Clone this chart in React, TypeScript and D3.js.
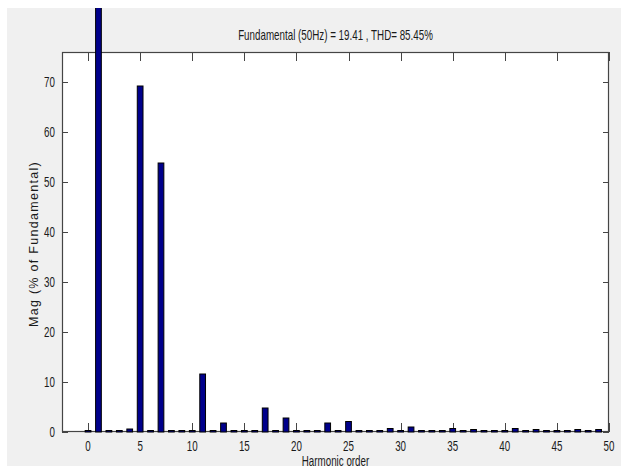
import * as d3 from 'd3'

const harmonicOrder = [
  0, 1, 2, 3, 4, 5, 6, 7, 8, 9, 10, 11, 12, 13, 14, 15, 16, 17, 18, 19, 20, 21, 22, 23, 24,
  25, 26, 27, 28, 29, 30, 31, 32, 33, 34, 35, 36, 37, 38, 39, 40, 41, 42, 43, 44, 45, 46, 47, 48, 49,
]
const magPct = [
  0.3, 100, 0.3, 0.3, 0.6, 69.2, 0.3, 53.8, 0.3, 0.3, 0.3, 11.6, 0.3, 1.8, 0.3, 0.3, 0.3, 4.8, 0.3, 2.8,
  0.3, 0.3, 0.3, 1.8, 0.3, 2.1, 0.3, 0.3, 0.3, 0.7, 0.3, 1.0, 0.3, 0.3, 0.3, 0.7, 0.3, 0.5, 0.3, 0.3,
  0.3, 0.7, 0.3, 0.5, 0.3, 0.3, 0.3, 0.5, 0.3, 0.5,
]
const xTicks = [0, 5, 10, 15, 20, 25, 30, 35, 40, 45, 50]
const yTicks = [0, 10, 20, 30, 40, 50, 60, 70]
const title = 'Fundamental (50Hz) = 19.41 , THD= 85.45%'

const W = 621
const H = 470
const box = { left: 62, right: 609, top: 52, bottom: 432 }
const panel = { x: 7, y: 8, w: 614, h: 458 }
const font = '"Liberation Sans", Arial, sans-serif'

// MATLAB-style condensed text
function Narrow({ x, y, anchor = 'middle', size = 14, children }: { x: number; y: number; anchor?: string; size?: number; children: any }) {
  return (
    <text transform={`translate(${x},${y}) scale(0.7,1)`} textAnchor={anchor} fontFamily={font} fontSize={size} fill="#1a1a1a">
      {children}
    </text>
  )
}

export default function App() {
  const x = d3.scaleLinear().domain([-2.5, 50]).range([box.left, box.right])
  const y = d3.scaleLinear().domain([0, 76]).range([box.bottom, box.top])
  const barW = x(0.55) - x(0)
  const axisColor = '#454545'

  return (
    <div style={{ position: 'fixed', left: 0, top: 0 }}>
      <svg width={W} height={H} style={{ display: 'block', background: '#fff' }}>
        <defs>
          <clipPath id="fig">
            <rect x={panel.x} y={panel.y} width={panel.w} height={panel.h} />
          </clipPath>
        </defs>
        <g clipPath="url(#fig)">
          <rect x={panel.x} y={panel.y} width={panel.w} height={panel.h} fill="#f0f0f0" />
          <rect x={box.left} y={box.top} width={box.right - box.left} height={box.bottom - box.top} fill="#fff" />

          {xTicks.map((t) => (
            <g key={'xt' + t} stroke={axisColor} strokeWidth={1}>
              <line x1={Math.round(x(t)) + 0.5} x2={Math.round(x(t)) + 0.5} y1={box.bottom} y2={box.bottom - 9} />
              <line x1={Math.round(x(t)) + 0.5} x2={Math.round(x(t)) + 0.5} y1={box.top} y2={box.top + 9} />
            </g>
          ))}
          {yTicks.map((t) => (
            <g key={'yt' + t} stroke={axisColor} strokeWidth={1}>
              <line x1={box.left} x2={box.left + 6} y1={Math.round(y(t)) + 0.5} y2={Math.round(y(t)) + 0.5} />
              <line x1={box.right} x2={box.right - 6} y1={Math.round(y(t)) + 0.5} y2={Math.round(y(t)) + 0.5} />
            </g>
          ))}

          <rect x={box.left + 0.5} y={box.top + 0.5} width={box.right - box.left - 1} height={box.bottom - box.top - 1}
            fill="none" stroke={axisColor} strokeWidth={1.2} />

          {harmonicOrder.map((h, i) => {
            const top = y(magPct[i])
            return (
              <rect key={h} x={x(h) - barW / 2} y={top} width={barW} height={Math.max(0, box.bottom - top)}
                fill="#00008b" stroke="#000" strokeWidth={1} />
            )
          })}

          {xTicks.map((t) => (
            <Narrow key={'xl' + t} x={x(t)} y={box.bottom + 19}>{t}</Narrow>
          ))}
          {yTicks.map((t) => (
            <Narrow key={'yl' + t} x={box.left - 7} y={y(t) + 5} anchor="end">{t}</Narrow>
          ))}

          <Narrow x={(box.left + box.right) / 2} y={40}>{title}</Narrow>
          <text transform={`translate(38, ${(box.top + box.bottom) / 2 + 2}) rotate(-90)`} textAnchor="middle"
            fontFamily={font} fontSize={12.5} letterSpacing={1.3} fill="#1a1a1a">
            Mag (% of Fundamental)
          </text>
        </g>
        <Narrow x={(box.left + box.right) / 2} y={466}>Harmonic order</Narrow>
      </svg>
    </div>
  )
}
